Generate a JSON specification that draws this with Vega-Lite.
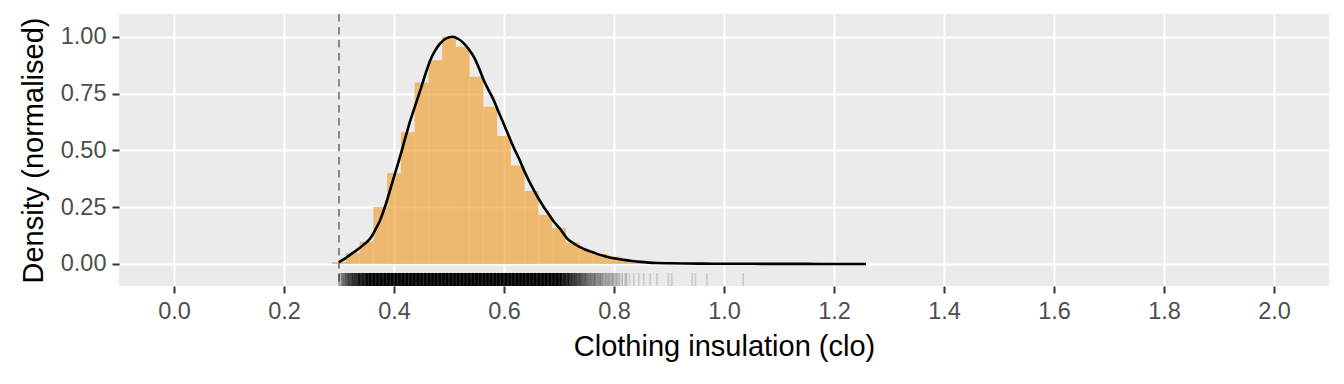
{
  "$schema": "https://vega.github.io/schema/vega-lite/v6.json",
  "width": 1210,
  "height": 272,
  "autosize": {"type": "none"},
  "padding": {"left": 119, "top": 14, "right": 15, "bottom": 98},
  "background": "#FFFFFF",
  "config": {
    "view": {"fill": "#EBEBEB", "stroke": null},
    "font": "Liberation Sans",
    "axis": {
      "domain": false,
      "gridColor": "#FFFFFF",
      "gridWidth": 2,
      "tickColor": "#333333",
      "tickWidth": 2,
      "tickSize": 7,
      "labelColor": "#4D4D4D",
      "labelFontSize": 23.5,
      "labelFont": "Liberation Sans",
      "titleFont": "Liberation Sans",
      "titleFontSize": 29,
      "titleFontWeight": "normal",
      "titleColor": "#000000",
      "labelOverlap": false,
      "labelFlush": false
    }
  },
  "datasets": {
    "hist": [
      {"lo": 0.2875, "hi": 0.3125, "density": 0.008},
      {"lo": 0.3125, "hi": 0.3375, "density": 0.048},
      {"lo": 0.3375, "hi": 0.3625, "density": 0.098},
      {"lo": 0.3625, "hi": 0.3875, "density": 0.251},
      {"lo": 0.3875, "hi": 0.4125, "density": 0.40},
      {"lo": 0.4125, "hi": 0.4375, "density": 0.58},
      {"lo": 0.4375, "hi": 0.4625, "density": 0.798},
      {"lo": 0.4625, "hi": 0.4875, "density": 0.897},
      {"lo": 0.4875, "hi": 0.5125, "density": 1.0},
      {"lo": 0.5125, "hi": 0.5375, "density": 0.956},
      {"lo": 0.5375, "hi": 0.5625, "density": 0.824},
      {"lo": 0.5625, "hi": 0.5875, "density": 0.692},
      {"lo": 0.5875, "hi": 0.6125, "density": 0.563},
      {"lo": 0.6125, "hi": 0.6375, "density": 0.433},
      {"lo": 0.6375, "hi": 0.6625, "density": 0.321},
      {"lo": 0.6625, "hi": 0.6875, "density": 0.216},
      {"lo": 0.6875, "hi": 0.7125, "density": 0.158},
      {"lo": 0.7125, "hi": 0.7375, "density": 0.095},
      {"lo": 0.7375, "hi": 0.7625, "density": 0.062},
      {"lo": 0.7625, "hi": 0.7875, "density": 0.044},
      {"lo": 0.7875, "hi": 0.8125, "density": 0.032},
      {"lo": 0.8125, "hi": 0.8375, "density": 0.014},
      {"lo": 0.8375, "hi": 0.8625, "density": 0.010},
      {"lo": 0.8625, "hi": 0.8875, "density": 0.006},
      {"lo": 0.8875, "hi": 0.9125, "density": 0.004},
      {"lo": 0.9125, "hi": 0.9375, "density": 0.002},
      {"lo": 0.9375, "hi": 0.9625, "density": 0.003},
      {"lo": 0.9625, "hi": 0.9875, "density": 0.002},
      {"lo": 1.0125, "hi": 1.0375, "density": 0.001}
    ],
    "kde": [
      {"clo": 0.300, "density": 0.008},
      {"clo": 0.310, "density": 0.022},
      {"clo": 0.320, "density": 0.040},
      {"clo": 0.333, "density": 0.062},
      {"clo": 0.345, "density": 0.085},
      {"clo": 0.357, "density": 0.113},
      {"clo": 0.366, "density": 0.150},
      {"clo": 0.375, "density": 0.194},
      {"clo": 0.384, "density": 0.255},
      {"clo": 0.393, "density": 0.326},
      {"clo": 0.402, "density": 0.400},
      {"clo": 0.411, "density": 0.472},
      {"clo": 0.420, "density": 0.550},
      {"clo": 0.430, "density": 0.634},
      {"clo": 0.439, "density": 0.700},
      {"clo": 0.448, "density": 0.766},
      {"clo": 0.457, "density": 0.835},
      {"clo": 0.466, "density": 0.897},
      {"clo": 0.475, "density": 0.940},
      {"clo": 0.484, "density": 0.971},
      {"clo": 0.495, "density": 0.993},
      {"clo": 0.507, "density": 1.000},
      {"clo": 0.517, "density": 0.990},
      {"clo": 0.527, "density": 0.971},
      {"clo": 0.536, "density": 0.945},
      {"clo": 0.545, "density": 0.912},
      {"clo": 0.554, "density": 0.865},
      {"clo": 0.563, "density": 0.810},
      {"clo": 0.572, "density": 0.765},
      {"clo": 0.581, "density": 0.722},
      {"clo": 0.590, "density": 0.670},
      {"clo": 0.599, "density": 0.619},
      {"clo": 0.608, "density": 0.567},
      {"clo": 0.617, "density": 0.516},
      {"clo": 0.627, "density": 0.465},
      {"clo": 0.636, "density": 0.414},
      {"clo": 0.645, "density": 0.368},
      {"clo": 0.654, "density": 0.326},
      {"clo": 0.663, "density": 0.287},
      {"clo": 0.672, "density": 0.252},
      {"clo": 0.681, "density": 0.220},
      {"clo": 0.690, "density": 0.188},
      {"clo": 0.702, "density": 0.155},
      {"clo": 0.7145, "density": 0.113},
      {"clo": 0.727, "density": 0.090},
      {"clo": 0.739, "density": 0.073},
      {"clo": 0.751, "density": 0.060},
      {"clo": 0.763, "density": 0.050},
      {"clo": 0.775, "density": 0.040},
      {"clo": 0.787, "density": 0.032},
      {"clo": 0.802, "density": 0.024},
      {"clo": 0.8175, "density": 0.018},
      {"clo": 0.833, "density": 0.013},
      {"clo": 0.848, "density": 0.009},
      {"clo": 0.863, "density": 0.006},
      {"clo": 0.878, "density": 0.004},
      {"clo": 0.900, "density": 0.003},
      {"clo": 0.930, "density": 0.002},
      {"clo": 0.960, "density": 0.0015},
      {"clo": 1.000, "density": 0.001},
      {"clo": 1.050, "density": 0.0007},
      {"clo": 1.100, "density": 0.0004},
      {"clo": 1.150, "density": 0.0002},
      {"clo": 1.200, "density": 0.0001},
      {"clo": 1.258, "density": 0.0}
    ],
    "rug": [
      {"clo":0.3,"n":3},{"clo":0.3025,"n":2},{"clo":0.305,"n":4},{"clo":0.3075,"n":5},
      {"clo":0.31,"n":5},{"clo":0.3125,"n":6},{"clo":0.315,"n":6},{"clo":0.3175,"n":7},
      {"clo":0.32,"n":7},{"clo":0.3225,"n":7},{"clo":0.325,"n":8},{"clo":0.3275,"n":8},
      {"clo":0.33,"n":8},{"clo":0.3325,"n":8},{"clo":0.335,"n":9},{"clo":0.3375,"n":9},
      {"clo":0.34,"n":9},{"clo":0.3425,"n":9},{"clo":0.345,"n":9},{"clo":0.3475,"n":9},
      {"clo":0.35,"n":10},{"clo":0.3525,"n":10},{"clo":0.355,"n":10},{"clo":0.3575,"n":10},
      {"clo":0.36,"n":10},{"clo":0.3625,"n":10},{"clo":0.365,"n":10},{"clo":0.3675,"n":10},
      {"clo":0.37,"n":10},{"clo":0.3725,"n":10},{"clo":0.375,"n":10},{"clo":0.3775,"n":10},
      {"clo":0.38,"n":10},{"clo":0.3825,"n":10},{"clo":0.385,"n":10},{"clo":0.3875,"n":10},
      {"clo":0.39,"n":10},{"clo":0.3925,"n":10},{"clo":0.395,"n":10},{"clo":0.3975,"n":10},
      {"clo":0.40,"n":10},{"clo":0.4025,"n":10},{"clo":0.405,"n":10},{"clo":0.4075,"n":10},
      {"clo":0.41,"n":10},{"clo":0.4125,"n":10},{"clo":0.415,"n":10},{"clo":0.4175,"n":10},
      {"clo":0.42,"n":10},{"clo":0.4225,"n":10},{"clo":0.425,"n":10},{"clo":0.4275,"n":10},
      {"clo":0.43,"n":10},{"clo":0.4325,"n":10},{"clo":0.435,"n":10},{"clo":0.4375,"n":10},
      {"clo":0.44,"n":10},{"clo":0.4425,"n":10},{"clo":0.445,"n":10},{"clo":0.4475,"n":10},
      {"clo":0.45,"n":10},{"clo":0.4525,"n":10},{"clo":0.455,"n":10},{"clo":0.4575,"n":10},
      {"clo":0.46,"n":10},{"clo":0.4625,"n":10},{"clo":0.465,"n":10},{"clo":0.4675,"n":10},
      {"clo":0.47,"n":10},{"clo":0.4725,"n":10},{"clo":0.475,"n":10},{"clo":0.4775,"n":10},
      {"clo":0.48,"n":10},{"clo":0.4825,"n":10},{"clo":0.485,"n":10},{"clo":0.4875,"n":10},
      {"clo":0.49,"n":10},{"clo":0.4925,"n":10},{"clo":0.495,"n":10},{"clo":0.4975,"n":10},
      {"clo":0.50,"n":10},{"clo":0.5025,"n":10},{"clo":0.505,"n":10},{"clo":0.5075,"n":10},
      {"clo":0.51,"n":10},{"clo":0.5125,"n":10},{"clo":0.515,"n":10},{"clo":0.5175,"n":10},
      {"clo":0.52,"n":10},{"clo":0.5225,"n":10},{"clo":0.525,"n":10},{"clo":0.5275,"n":10},
      {"clo":0.53,"n":10},{"clo":0.5325,"n":10},{"clo":0.535,"n":10},{"clo":0.5375,"n":10},
      {"clo":0.54,"n":10},{"clo":0.5425,"n":10},{"clo":0.545,"n":10},{"clo":0.5475,"n":10},
      {"clo":0.55,"n":10},{"clo":0.5525,"n":10},{"clo":0.555,"n":10},{"clo":0.5575,"n":10},
      {"clo":0.56,"n":10},{"clo":0.5625,"n":10},{"clo":0.565,"n":10},{"clo":0.5675,"n":10},
      {"clo":0.57,"n":10},{"clo":0.5725,"n":10},{"clo":0.575,"n":10},{"clo":0.5775,"n":10},
      {"clo":0.58,"n":10},{"clo":0.5825,"n":10},{"clo":0.585,"n":10},{"clo":0.5875,"n":10},
      {"clo":0.59,"n":10},{"clo":0.5925,"n":10},{"clo":0.595,"n":10},{"clo":0.5975,"n":10},
      {"clo":0.60,"n":10},{"clo":0.6025,"n":10},{"clo":0.605,"n":10},{"clo":0.6075,"n":10},
      {"clo":0.61,"n":10},{"clo":0.6125,"n":10},{"clo":0.615,"n":10},{"clo":0.6175,"n":10},
      {"clo":0.62,"n":10},{"clo":0.6225,"n":10},{"clo":0.625,"n":10},{"clo":0.6275,"n":10},
      {"clo":0.63,"n":10},{"clo":0.6325,"n":10},{"clo":0.635,"n":10},{"clo":0.6375,"n":10},
      {"clo":0.64,"n":10},{"clo":0.6425,"n":10},{"clo":0.645,"n":10},{"clo":0.6475,"n":10},
      {"clo":0.65,"n":10},{"clo":0.6525,"n":10},{"clo":0.655,"n":10},{"clo":0.6575,"n":10},
      {"clo":0.66,"n":10},{"clo":0.6625,"n":10},{"clo":0.665,"n":10},{"clo":0.6675,"n":10},
      {"clo":0.67,"n":10},{"clo":0.6725,"n":10},{"clo":0.675,"n":10},{"clo":0.6775,"n":10},
      {"clo":0.68,"n":10},{"clo":0.6825,"n":10},{"clo":0.685,"n":10},{"clo":0.6875,"n":10},
      {"clo":0.69,"n":10},{"clo":0.6925,"n":10},{"clo":0.695,"n":10},{"clo":0.6975,"n":10},
      {"clo":0.70,"n":10},{"clo":0.7025,"n":10},{"clo":0.705,"n":9},{"clo":0.7075,"n":9},
      {"clo":0.71,"n":9},{"clo":0.7125,"n":9},{"clo":0.715,"n":8},{"clo":0.7175,"n":9},
      {"clo":0.72,"n":8},{"clo":0.7225,"n":8},{"clo":0.725,"n":7},{"clo":0.7275,"n":8},
      {"clo":0.73,"n":7},{"clo":0.7325,"n":7},{"clo":0.735,"n":6},{"clo":0.7375,"n":7},
      {"clo":0.74,"n":6},{"clo":0.7425,"n":6},{"clo":0.745,"n":5},{"clo":0.7475,"n":6},
      {"clo":0.75,"n":5},{"clo":0.7525,"n":5},{"clo":0.755,"n":4},{"clo":0.7575,"n":5},
      {"clo":0.76,"n":4},{"clo":0.7625,"n":4},{"clo":0.765,"n":5},{"clo":0.7675,"n":3},
      {"clo":0.77,"n":4},{"clo":0.7725,"n":3},{"clo":0.775,"n":4},{"clo":0.7775,"n":3},
      {"clo":0.78,"n":3},{"clo":0.7825,"n":2},{"clo":0.785,"n":3},{"clo":0.7875,"n":2},
      {"clo":0.79,"n":3},{"clo":0.7925,"n":2},{"clo":0.795,"n":2},{"clo":0.7975,"n":3},
      {"clo":0.80,"n":2},{"clo":0.8025,"n":2},{"clo":0.805,"n":2},{"clo":0.8075,"n":1},
      {"clo":0.81,"n":2},{"clo":0.815,"n":2},{"clo":0.82,"n":1},{"clo":0.8225,"n":2},
      {"clo":0.828,"n":1},{"clo":0.836,"n":1},{"clo":0.845,"n":1},{"clo":0.854,"n":1},
      {"clo":0.866,"n":1},{"clo":0.878,"n":1},{"clo":0.899,"n":1},{"clo":0.905,"n":1},
      {"clo":0.942,"n":1},{"clo":0.948,"n":1},{"clo":0.969,"n":1},{"clo":1.035,"n":1}
    ],
    "threshold": [{"clo": 0.3}]
  },
  "layer": [
    {
      "data": {"name": "hist"},
      "mark": {"type": "rect", "fill": "#EEA43A", "opacity": 0.7},
      "encoding": {
        "x": {
          "field": "lo", "type": "quantitative",
          "scale": {"domain": [-0.1, 2.1], "nice": false, "zero": false},
          "title": "Clothing insulation (clo)",
          "axis": {
            "values": [0, 0.2, 0.4, 0.6, 0.8, 1.0, 1.2, 1.4, 1.6, 1.8, 2.0],
            "format": ".1f",
            "labelPadding": 6,
            "titlePadding": 10
          }
        },
        "x2": {"field": "hi"},
        "y": {
          "field": "density", "type": "quantitative",
          "scale": {"domain": [-0.097, 1.1], "nice": false, "zero": false},
          "title": "Density (normalised)",
          "axis": {
            "values": [0, 0.125, 0.25, 0.375, 0.5, 0.625, 0.75, 0.875, 1.0],
            "labelExpr": "round(datum.value*8)%2==0 ? format(datum.value, '.2f') : ''",
            "tickOpacity": {"condition": {"test": "round(datum.value*8)%2==1", "value": 0}, "value": 1},
            "gridWidth": {"condition": {"test": "round(datum.value*8)%2==1", "value": 1.4}, "value": 2},
            "labelPadding": 6,
            "titlePadding": 12
          }
        },
        "y2": {"datum": 0}
      }
    },
    {
      "data": {"name": "threshold"},
      "mark": {"type": "rule", "color": "#7F7F7F", "strokeWidth": 1.8, "strokeDash": [7.5, 5.5]},
      "encoding": {
        "x": {"field": "clo", "type": "quantitative", "title": "Clothing insulation (clo)"}
      }
    },
    {
      "data": {"name": "kde"},
      "mark": {"type": "line", "color": "#000000", "strokeWidth": 2.6, "interpolate": "monotone"},
      "encoding": {
        "x": {"field": "clo", "type": "quantitative", "title": "Clothing insulation (clo)"},
        "y": {"field": "density", "type": "quantitative", "title": "Density (normalised)"}
      }
    },
    {
      "data": {"name": "rug"},
      "mark": {"type": "rule", "color": "#000000", "strokeWidth": 1.6},
      "encoding": {
        "x": {"field": "clo", "type": "quantitative", "title": "Clothing insulation (clo)"},
        "y": {"datum": -0.097},
        "y2": {"datum": -0.0396},
        "opacity": {
          "field": "n", "type": "quantitative",
          "scale": {"domain": [0, 10], "range": [0.05, 1], "clamp": true},
          "legend": null
        }
      }
    }
  ]
}
